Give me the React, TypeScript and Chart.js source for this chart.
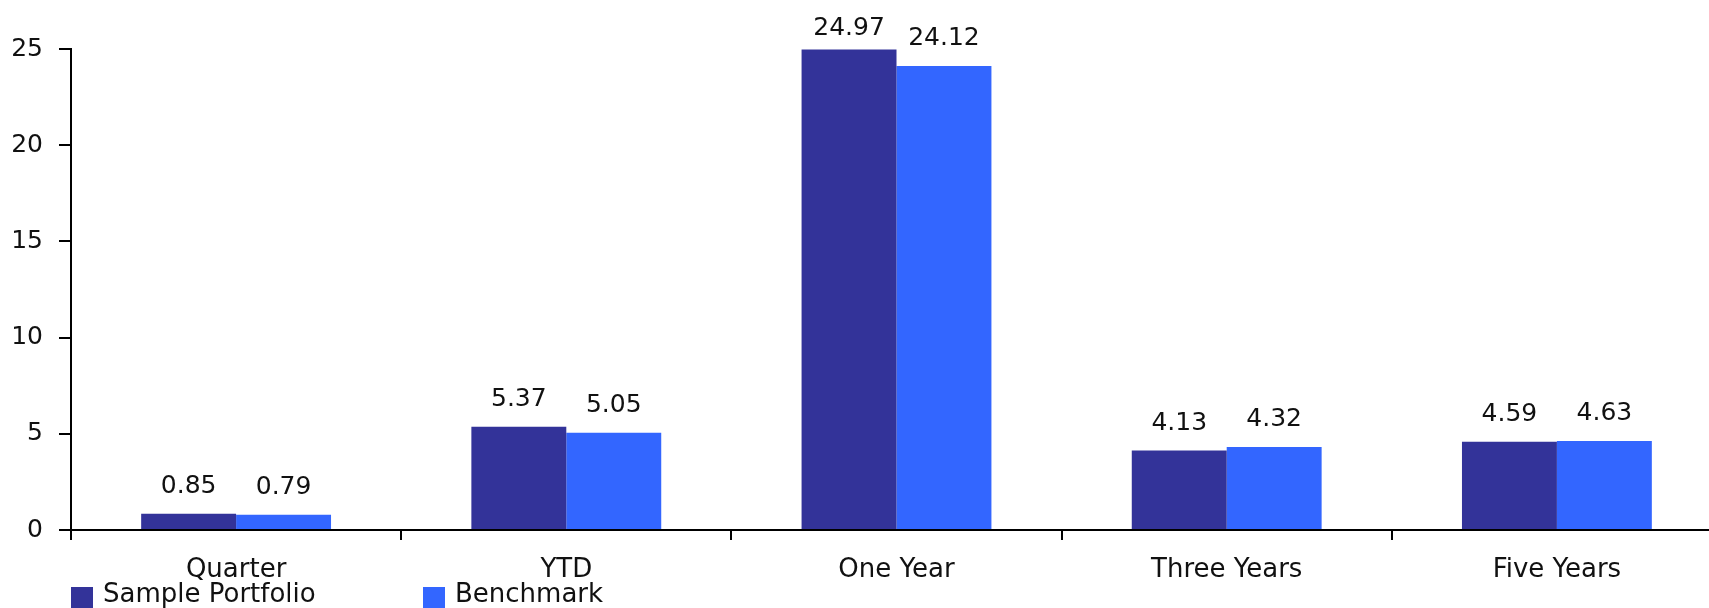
import React, { useEffect, useRef } from "react";
import { Chart, registerables } from "chart.js";

Chart.register(...registerables);

const categories = ["Quarter", "YTD", "One Year", "Three Years", "Five Years"];
const portfolioValues = [0.85, 5.37, 24.97, 4.13, 4.59];
const benchmarkValues = [0.79, 5.05, 24.12, 4.32, 4.63];
const seriesNames = ["Sample Portfolio", "Benchmark"];
const seriesColors = ["#333399", "#3366FF"];
const yTicks = [0, 5, 10, 15, 20, 25];

const FONT = "'DejaVu Sans', Verdana, sans-serif";

const valueLabels = {
  id: "valueLabels",
  afterDatasetsDraw(chart: any) {
    const ctx = chart.ctx;
    ctx.save();
    ctx.font = `25px ${FONT}`;
    ctx.fillStyle = "#111";
    ctx.textAlign = "center";
    ctx.textBaseline = "alphabetic";
    chart.data.datasets.forEach((ds: any, i: number) => {
      const meta = chart.getDatasetMeta(i);
      meta.data.forEach((bar: any, j: number) => {
        const y = Math.max(bar.y - 21, 35);
        ctx.fillText(Number(ds.data[j]).toFixed(2), bar.x, y);
      });
    });
    ctx.restore();
  },
};

const bottomLegend = {
  id: "bottomLegend",
  afterDraw(chart: any) {
    const ctx = chart.ctx;
    ctx.save();
    ctx.font = `26px ${FONT}`;
    ctx.textBaseline = "alphabetic";
    ctx.textAlign = "left";
    const starts = [71, 423];
    chart.data.datasets.forEach((ds: any, i: number) => {
      const x = starts[i];
      ctx.fillStyle = ds.backgroundColor;
      ctx.fillRect(x, 587, 22, 22);
      ctx.fillStyle = "#111";
      ctx.fillText(ds.label, x + 32, 602);
    });
    ctx.restore();
  },
};

export default function App() {
  const ref = useRef<HTMLCanvasElement | null>(null);

  useEffect(() => {
    const canvas = ref.current;
    if (!canvas) return;
    const chart = new Chart(canvas, {
      type: "bar",
      data: {
        labels: categories,
        datasets: [
          {
            label: seriesNames[0],
            data: portfolioValues,
            backgroundColor: seriesColors[0],
            categoryPercentage: 0.575,
            barPercentage: 1.0,
          },
          {
            label: seriesNames[1],
            data: benchmarkValues,
            backgroundColor: seriesColors[1],
            categoryPercentage: 0.575,
            barPercentage: 1.0,
          },
        ],
      },
      options: {
        responsive: false,
        animation: false,
        layout: { padding: { top: 49, right: 8, bottom: 35, left: 0 } },
        plugins: {
          legend: { display: false },
          tooltip: { enabled: false },
        },
        scales: {
          x: {
            grid: {
              display: true,
              offset: true,
              drawOnChartArea: false,
              drawTicks: true,
              tickLength: 10,
              color: "#000",
              lineWidth: 2,
            },
            border: { display: true, color: "#000", width: 2 },
            ticks: {
              color: "#111",
              font: { family: FONT, size: 26 },
              padding: 15,
              maxRotation: 0,
            },
            afterFit(scale: any) {
              scale.height = 60;
            },
          },
          y: {
            min: 0,
            max: 25,
            afterBuildTicks(scale: any) {
              scale.ticks = yTicks.map((v) => ({ value: v }));
            },
            grid: {
              display: true,
              drawOnChartArea: false,
              drawTicks: true,
              tickLength: 12,
              color: "#000",
              lineWidth: 2,
            },
            border: { display: true, color: "#000", width: 2 },
            ticks: {
              color: "#111",
              font: { family: FONT, size: 25 },
              padding: 16,
            },
            afterFit(scale: any) {
              scale.width = 71;
            },
          },
        },
      },
      plugins: [valueLabels, bottomLegend],
    });
    return () => chart.destroy();
  }, []);

  return (
    <div
      style={{
        position: "fixed",
        left: 0,
        top: 0,
        width: "1709px",
        height: "608px",
        overflow: "hidden",
        background: "#fff",
      }}
    >
      <canvas ref={ref} width={1730} height={625} style={{ display: "block" }} />
    </div>
  );
}
